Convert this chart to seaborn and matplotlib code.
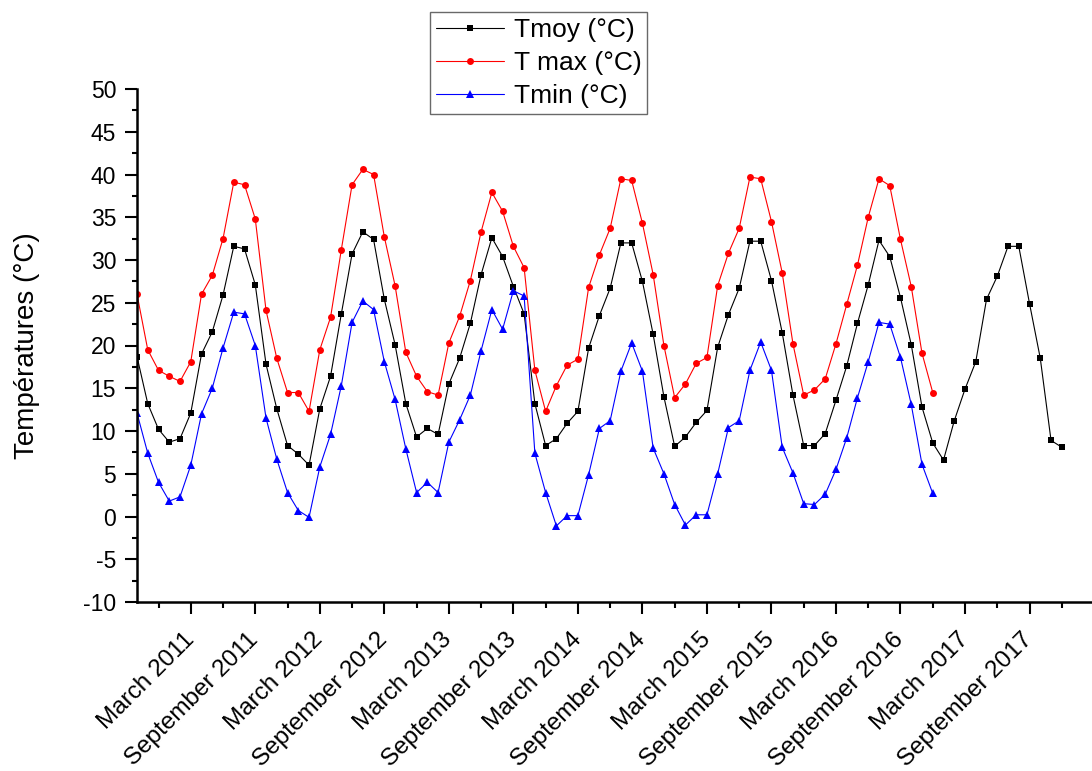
import numpy as np
import pandas as pd
import matplotlib
matplotlib.use("Agg")
import matplotlib.pyplot as plt
from matplotlib.ticker import MultipleLocator, FixedLocator
import seaborn as sns

# Monthly series, starting October 2010
start_month = "2010-10"

tmoy = [18.7, 13.2, 10.2, 8.7, 9.1, 12.1, 19.0, 21.6, 25.9, 31.6, 31.3, 27.1,
        17.8, 12.6, 8.3, 7.3, 6.0, 12.6, 16.4, 23.7, 30.7, 33.3, 32.4, 25.4,
        20.1, 13.2, 9.3, 10.3, 9.6, 15.5, 18.5, 22.6, 28.3, 32.6, 30.4, 26.9,
        23.7, 13.2, 8.3, 9.1, 10.9, 12.3, 19.7, 23.5, 26.7, 32.0, 32.0, 27.5,
        21.3, 14.0, 8.2, 9.3, 11.0, 12.4, 19.8, 23.6, 26.7, 32.2, 32.2, 27.6,
        21.5, 14.2, 8.3, 8.3, 9.7, 13.6, 17.6, 22.6, 27.1, 32.3, 30.4, 25.6,
        20.1, 12.8, 8.6, 6.6, 11.2, 14.9, 18.1, 25.4, 28.1, 31.6, 31.6, 24.9,
        18.5, 8.9, 8.1]

tmax = [26.0, 19.5, 17.1, 16.4, 15.8, 18.1, 26.0, 28.2, 32.5, 39.1, 38.8, 34.8,
        24.1, 18.5, 14.5, 14.5, 12.3, 19.5, 23.3, 31.2, 38.8, 40.6, 40.0, 32.7,
        27.0, 19.2, 16.4, 14.6, 14.2, 20.3, 23.4, 27.6, 33.3, 37.9, 35.7, 31.6,
        29.1, 17.1, 12.3, 15.3, 17.7, 18.4, 26.8, 30.6, 33.7, 39.5, 39.3, 34.3,
        28.3, 20.0, 13.9, 15.5, 17.9, 18.6, 27.0, 30.8, 33.7, 39.7, 39.5, 34.5,
        28.5, 20.2, 14.2, 14.8, 16.1, 20.2, 24.8, 29.4, 35.0, 39.5, 38.7, 32.4,
        26.9, 19.1, 14.5]

tmin = [12.1, 7.4, 4.0, 1.8, 2.3, 6.0, 12.0, 15.0, 19.7, 23.9, 23.7, 20.0,
        11.5, 6.7, 2.8, 0.7, -0.1, 5.8, 9.6, 15.3, 22.7, 25.2, 24.2, 18.1,
        13.7, 7.9, 2.8, 4.0, 2.8, 8.7, 11.3, 14.2, 19.4, 24.2, 21.9, 26.4,
        25.8, 7.4, 2.8, -1.1, 0.1, 0.1, 4.9, 10.3, 11.2, 17.0, 20.3, 17.0,
        8.0, 5.0, 1.4, -1.0, 0.2, 0.2, 5.0, 10.4, 11.2, 17.1, 20.4, 17.1,
        8.1, 5.1, 1.5, 1.4, 2.6, 5.5, 9.2, 13.9, 18.1, 22.7, 22.5, 18.6,
        13.1, 6.1, 2.7]

tick_labels = ["March 2011", "September 2011", "March 2012", "September 2012",
               "March 2013", "September 2013", "March 2014", "September 2014",
               "March 2015", "September 2015", "March 2016", "September 2016",
               "March 2017", "September 2017"]

months = pd.period_range(start_month, periods=len(tmoy), freq="M")
month_pos = {m.strftime("%B %Y"): i for i, m in enumerate(months)}

df_moy = pd.DataFrame({"mois": np.arange(len(tmoy)), "T": tmoy})
df_max = pd.DataFrame({"mois": np.arange(len(tmax)), "T": tmax})
df_min = pd.DataFrame({"mois": np.arange(len(tmin)), "T": tmin})

sns.set_style("ticks", {"axes.edgecolor": "black", "text.color": "black",
                        "xtick.color": "black", "ytick.color": "black",
                        "axes.labelcolor": "black"})
plt.rcParams["font.family"] = ["Liberation Sans", "DejaVu Sans"]
plt.rcParams["axes.unicode_minus"] = False

W, H = 1092, 771
fig = plt.figure(figsize=(W / 100, H / 100), dpi=100)
ax = fig.add_axes([137 / W, 1 - 602 / H, 1 - 137 / W, (602 - 89) / H])

sns.lineplot(data=df_moy, x="mois", y="T", ax=ax, color="black", linewidth=0.8,
             marker="s", markersize=4, markeredgewidth=0, label="Tmoy (°C)")
sns.lineplot(data=df_max, x="mois", y="T", ax=ax, color="red", linewidth=0.8,
             marker="o", markersize=5, markeredgewidth=0, label="T max (°C)")
sns.lineplot(data=df_min, x="mois", y="T", ax=ax, color="blue", linewidth=0.8,
             marker="^", markersize=5.5, markeredgewidth=0, label="Tmin (°C)")

ax.set_xlim(0, (W - 137.3) / 10.75)
ax.set_ylim(-10, 50)

major_x = [month_pos[t] for t in tick_labels]
minor_x = [p + 3 for p in [major_x[0] - 6] + major_x]
ax.xaxis.set_major_locator(FixedLocator(major_x))
ax.xaxis.set_minor_locator(FixedLocator(minor_x))
ax.set_xticklabels(tick_labels, rotation=45, ha="right", va="center",
                   rotation_mode="anchor", fontsize=17.5)

ax.yaxis.set_major_locator(MultipleLocator(5))
ax.yaxis.set_minor_locator(MultipleLocator(2.5))
ax.tick_params(axis="y", labelsize=16.5)

ax.tick_params(axis="x", which="major", length=8.6, width=1.5, pad=16)
ax.tick_params(axis="x", which="minor", length=4.3, width=1.5)
ax.tick_params(axis="y", which="major", length=9, width=1.5, pad=6)
ax.tick_params(axis="y", which="minor", length=3.8, width=1.5)

for side in ("top", "right"):
    ax.spines[side].set_visible(False)
for side in ("left", "bottom"):
    ax.spines[side].set_linewidth(1.8)

ax.set_xlabel("")
ax.set_ylabel("Températures (°C)", fontsize=20, labelpad=31)

leg = ax.legend(loc="upper left", bbox_to_anchor=(430 / W, 1 - 12 / H),
                bbox_transform=fig.transFigure, fontsize=19, frameon=True,
                fancybox=False, handlelength=2.6, handletextpad=0.35,
                labelspacing=0.34, borderpad=0.22, borderaxespad=0)
leg.get_frame().set_edgecolor("#444444")
leg.get_frame().set_linewidth(1.0)

fig.savefig("out.png", dpi=100)
